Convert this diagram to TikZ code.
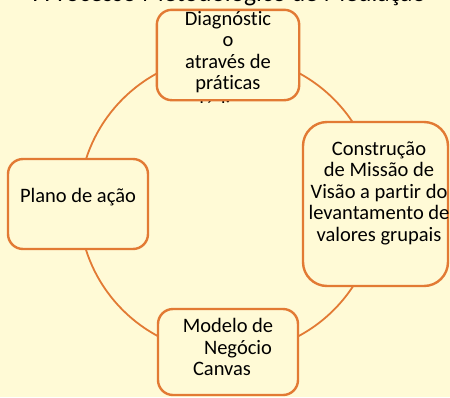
\documentclass[tikz,border=0pt]{standalone}
\usepackage{fontspec}
\setmainfont{Carlito}[Ligatures={NoCommon}]
\definecolor{bgyellow}{RGB}{255,250,214}
\definecolor{orng}{RGB}{226,122,52}
\begin{document}
\begin{tikzpicture}[x=1pt,y=-1pt,
  stepbox/.style={draw=orng,line width=2.4pt,fill=bgyellow,rectangle,inner sep=0pt},
  boxtext/.style={inner sep=0pt,align=center,font=\fontsize{20.5}{21.5}\selectfont,text=black},
  ring/.style={draw=orng,line width=1.8pt}]
\useasboundingbox (0,0) rectangle (450,397);
\fill[bgyellow] (0,0) rectangle (450,397);
\begin{scope}
\clip (0,0) rectangle (450,397);
\node[anchor=base,inner sep=0pt,font=\fontsize{25.5}{30}\selectfont] (title) at (229,1) {I Processo Metodológico de Mediação};
\end{scope}
\draw[ring] (228.2,204.5) circle (149.2);
\node[stepbox,draw=none,rounded corners=15pt,minimum width=140pt,minimum height=88pt] (top) at (228,55) {};
\node[stepbox,rounded corners=24pt,minimum width=145pt,minimum height=164pt] (right) at (375.5,204) {};
\node[stepbox,rounded corners=15pt,minimum width=140pt,minimum height=90pt] (left) at (78,204) {};
\node[stepbox,rounded corners=15pt,minimum width=140pt,minimum height=86pt] (bottom) at (228,352) {};
\begin{scope}
\clip (150,0) rectangle (310,102.5);
\node[boxtext,anchor=north] (toptext) at (228,11) {Diagnóstic\\o\\através de\\práticas\\[3.5pt]lúdicas};
\end{scope}
\draw[orng,line width=2.4pt,rounded corners=15pt] (top.north west) rectangle (top.south east);
\node[boxtext] (righttext) at (379,193) {Construção\\de Missão de\\Visão a partir do\\levantamento de\\valores grupais};
\node[boxtext] (lefttext) at (78,197) {Plano de ação};
\node[boxtext] (bottomtext) at (228,347) {Modelo de\\\hspace*{20pt}Negócio\\Canvas\hspace*{12pt}};
\end{tikzpicture}
\end{document}
